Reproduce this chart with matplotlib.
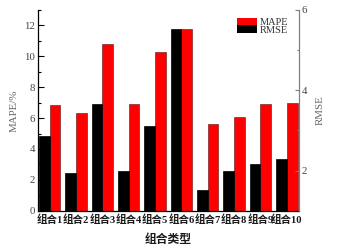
import matplotlib
matplotlib.use("Agg")
import matplotlib.pyplot as plt
import numpy as np

categories = ["组合1", "组合2", "组合3", "组合4", "组合5", "组合6", "组合7", "组合8", "组合9", "组合10"]
mape = [6.85, 6.33, 10.81, 6.91, 10.27, 11.79, 5.65, 6.04, 6.91, 6.95]
rmse = [2.86, 1.93, 3.67, 1.99, 3.12, 5.52, 1.52, 1.99, 2.16, 2.29]

SERIF = ["Liberation Serif", "Noto Sans CJK SC"]
plt.rcParams["font.family"] = SERIF

fig = plt.figure(figsize=(3.41, 2.5), dpi=100)
ax = fig.add_axes([0.1106, 0.157, 0.7654, 0.803])
ax2 = ax.twinx()

x = np.arange(len(categories))
w = 0.405
b1 = ax.bar(x + w / 2, mape, width=w, color="#ff0000", edgecolor="#7a2a2a", linewidth=0.5, label="MAPE")
b2 = ax2.bar(x - w / 2, rmse, width=w, color="#000000", edgecolor="#000000", linewidth=0.5, label="RMSE")

ax.set_xlim(-0.45, 9.45)
ax.set_ylim(0, 13)
ax2.set_ylim(1, 6)

ax.set_yticks([0, 2, 4, 6, 8, 10, 12])
ax.set_yticks(np.arange(1, 14, 2), minor=True)
ax2.set_yticks([2, 4, 6])
ax2.set_yticks([3, 5], minor=True)

ax.set_xticks(x)
ax.set_xticklabels(categories, fontsize=7.6, fontweight="bold", color="#1a1a1a")
ax.tick_params(axis="x", length=0, pad=3)

ax.tick_params(axis="y", which="major", direction="in", length=4, width=0.8, labelsize=7.8, labelcolor="#444444", pad=2)
ax.tick_params(axis="y", which="minor", direction="in", length=2, width=0.8)
ax2.tick_params(axis="y", which="major", direction="in", length=3, width=0.8, color="#808080", labelsize=7.8, labelcolor="#444444", pad=2)
ax2.tick_params(axis="y", which="minor", direction="in", length=1.5, width=0.8, color="#808080")

for a in (ax, ax2):
    a.spines["top"].set_visible(False)
ax.spines["left"].set_linewidth(0.9)
ax.spines["bottom"].set_linewidth(0.9)
ax.spines["right"].set_visible(False)
ax2.spines["left"].set_visible(False)
ax2.spines["bottom"].set_visible(False)
ax2.spines["right"].set_color("#808080")
ax2.spines["right"].set_linewidth(0.9)

ax.set_ylabel("MAPE/%", fontsize=7.8, color="#666666", labelpad=4)
ax2.set_ylabel("RMSE", fontsize=7.8, color="#666666", labelpad=6)
ax.set_xlabel("组合类型", fontsize=8.5, fontweight="bold", color="#1a1a1a", labelpad=6)

leg = ax2.legend([b1, b2], ["MAPE", "RMSE"], loc="upper left", bbox_to_anchor=(236.5 / 341, 1 - 17.5 / 250),
                 bbox_transform=fig.transFigure, frameon=False, fontsize=7.5, handlelength=2.0,
                 handleheight=0.8, handletextpad=0.25, labelspacing=-0.2, borderpad=0, borderaxespad=0)
for t in leg.get_texts():
    t.set_color("#333333")
for p in leg.get_patches():
    p.set_linewidth(0)

fig.savefig("out.png", dpi=100)
